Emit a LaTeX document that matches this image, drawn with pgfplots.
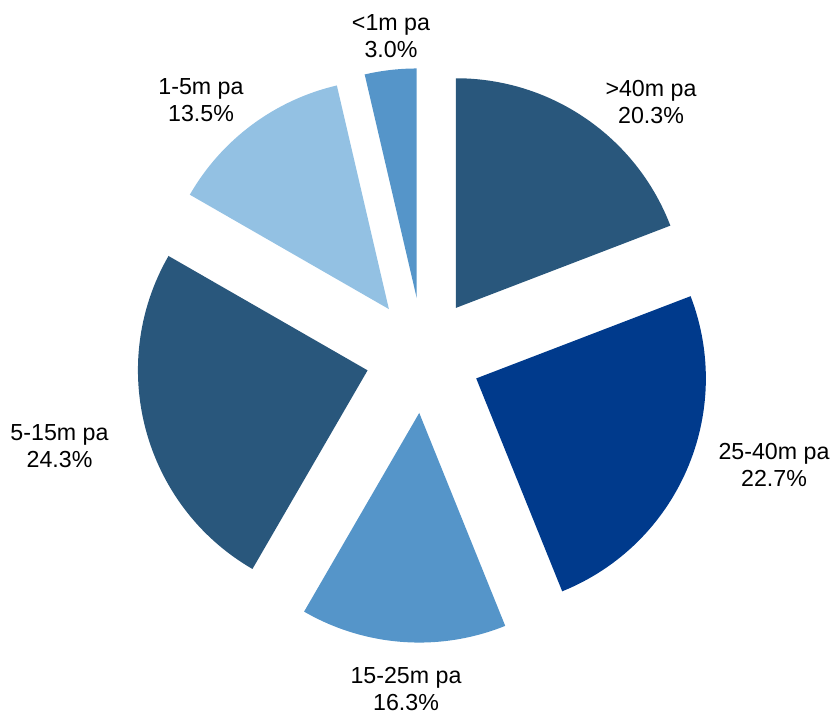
\documentclass[border=0pt]{standalone}
\usepackage{pgfplots}
\usepackage{pgfplotstable}
\pgfplotsset{compat=1.18}
\usepackage{fontspec}
\setmainfont{Liberation Sans}
\definecolor{cdark}{HTML}{29577C}
\definecolor{cnavy}{HTML}{003A8C}
\definecolor{cmid}{HTML}{5595C9}
\definecolor{clight}{HTML}{93C1E3}

% shares as drawn (angular share, %), and the printed label values
\pgfplotstableread{
share pct
19.17 20.3
24.72 22.7
14.47 16.3
24.94 24.3
13.06 13.5
3.64 3.0
}\piedata

\def\pieCX{423.3}\def\pieCY{357.6}\def\pieR{229.6}\def\pieE{57.7}
\def\pieRpt{114.8}
\xdef\piecur{90}
\pgfplotsforeachungrouped \i in {0,...,5}{%
  \pgfplotstablegetelem{\i}{share}\of\piedata
  \pgfmathsetmacro\pieen{\piecur-3.6*\pgfplotsretval}%
  \pgfmathsetmacro\piemid{(\piecur+\pieen)/2}%
  \pgfmathsetmacro\pieax{\pieCX+\pieE*cos(\piemid)}%
  \pgfmathsetmacro\pieay{\pieCY+\pieE*sin(\piemid)}%
  \pgfmathsetmacro\piebx{\pieax+\pieR*cos(\piecur)}%
  \pgfmathsetmacro\pieby{\pieay+\pieR*sin(\piecur)}%
  \expandafter\xdef\csname piest\i\endcsname{\piecur}%
  \expandafter\xdef\csname pieen\i\endcsname{\pieen}%
  \expandafter\xdef\csname pieax\i\endcsname{\pieax}%
  \expandafter\xdef\csname pieay\i\endcsname{\pieay}%
  \expandafter\xdef\csname piebx\i\endcsname{\piebx}%
  \expandafter\xdef\csname pieby\i\endcsname{\pieby}%
  \xdef\piecur{\pieen}%
}

\newcommand\pieslice[2]{%
  \edef\pietmp{\noexpand\addplot[fill=#2, draw=none] coordinates {(\csname pieax#1\endcsname,\csname pieay#1\endcsname)} -- (axis cs:\csname piebx#1\endcsname,\csname pieby#1\endcsname) arc[start angle=\csname piest#1\endcsname, end angle=\csname pieen#1\endcsname, radius=\pieRpt pt] -- cycle;}%
  \pietmp}

\newcommand\labfont{\fontsize{11.6}{13.5}\selectfont}

\begin{document}
\begin{tikzpicture}
\begin{axis}[x=0.5pt, y=0.5pt, xmin=0, xmax=838, ymin=0, ymax=713,
  hide axis, clip=false]
\addplot[draw=none] coordinates {(0,0) (838,713)};
\pieslice{0}{cdark}
\pieslice{1}{cnavy}
\pieslice{2}{cmid}
\pieslice{3}{cdark}
\pieslice{4}{clight}
\pieslice{5}{cmid}
\node[align=center, font=\labfont] at (axis cs:391,677) {<1m pa\\3.0\%};
\node[align=center, font=\labfont] at (axis cs:651,610.5) {>40m pa\\20.3\%};
\node[align=center, font=\labfont] at (axis cs:774,248) {25-40m pa\\22.7\%};
\node[align=center, font=\labfont] at (axis cs:406,23.5) {15-25m pa\\16.3\%};
\node[align=center, font=\labfont] at (axis cs:59.5,267.2) {5-15m pa\\24.3\%};
\node[align=center, font=\labfont] at (axis cs:201,613.3) {1-5m pa\\13.5\%};
\end{axis}
\end{tikzpicture}
\end{document}
